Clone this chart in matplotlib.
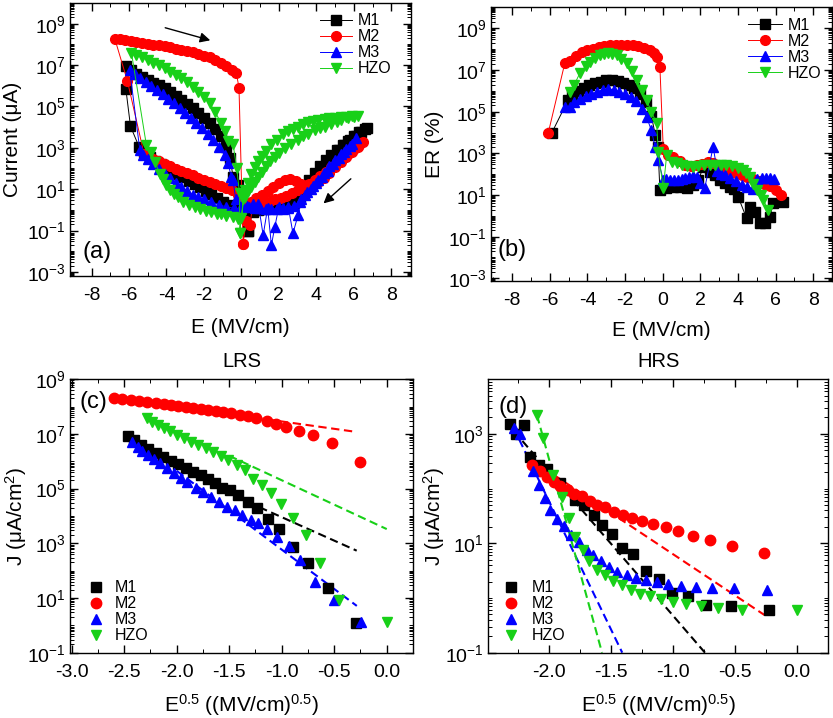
import numpy as np
import matplotlib
matplotlib.use('Agg')
import matplotlib.pyplot as plt
from matplotlib.ticker import FixedLocator, LogLocator, MultipleLocator, FuncFormatter, NullFormatter, FormatStrFormatter

plt.rcParams['font.family'] = ['Liberation Sans', 'DejaVu Sans']
plt.rcParams['mathtext.fontset'] = 'custom'
plt.rcParams['mathtext.rm'] = 'Liberation Sans'
plt.rcParams['mathtext.it'] = 'Liberation Sans:italic'
plt.rcParams['mathtext.bf'] = 'Liberation Sans:bold'
plt.rcParams['axes.unicode_minus'] = False

names = ['M1', 'M2', 'M3', 'HZO']
colors = ['#000000', '#ff0000', '#0000ff', '#18d018']
markers = ['s', 'o', '^', 'v']

# ---- (a) I-E loops, E in MV/cm, log10 of current in uA
a_m1_E = [0.35, 0.6, 0.9, 1.2, 1.5, 1.8, 2.1, 2.4, 2.7, 3.0, 3.3, 3.6, 3.9, 4.2, 4.5, 4.8, 5.1, 5.4, 5.7, 6.0, 6.3, 6.6,
          6.7, 6.4, 6.1, 5.8, 5.5, 5.2, 4.9, 4.6, 4.3, 4.0, 3.7, 3.4, 3.1, 2.8, 2.5, 2.2, 1.9, 1.6, 1.3, 1.0, 0.7, 0.4, 0.1,
          -0.1, -0.4, -0.7, -1.0, -1.3, -1.6, -1.9, -2.2, -2.5, -2.8, -3.1, -3.4, -3.7, -4.0, -4.3, -4.6, -4.9, -5.2, -5.46, -5.92, -6.17,
          -6.17, -5.9, -5.6, -5.3, -5.0, -4.7, -4.4, -4.1, -3.8, -3.5, -3.2, -2.9, -2.6, -2.3, -2.0, -1.7, -1.4, -1.1, -0.8, -0.6, -0.45, -0.2]
a_m1_logI = [-1.0, -0.1, 0.0, 0.05, 0.1, 0.15, 0.2, 0.3, 0.55, 0.8, 1.1, 1.45, 1.8, 2.1, 2.4, 2.65, 2.9, 3.15, 3.35, 3.55, 3.75, 3.93,
             3.95, 3.78, 3.58, 3.38, 3.12, 2.88, 2.62, 2.32, 2.02, 1.68, 1.32, 0.95, 0.6, 0.35, 0.2, 0.15, 0.12, 0.1, 0.08, 0.05, 0.02, 0.0, 0.1,
             -0.02, 0.1, 0.25, 0.4, 0.58, 0.75, 0.92, 1.08, 1.24, 1.41, 1.58, 1.73, 1.89, 2.05, 2.22, 2.38, 2.55, 2.8, 3.04, 4.04, 5.86,
             6.94, 6.75, 6.58, 6.42, 6.28, 6.15, 6.02, 5.88, 5.70, 5.52, 5.32, 5.12, 4.9, 4.68, 4.45, 4.2, 3.9, 3.55, 3.04, 2.5, 1.6, 1.2]

a_m2_E = [0.09, 0.25, 0.45, 0.6, 0.9, 1.2, 1.5, 1.8, 2.1, 2.4, 2.7, 3.0, 3.3, 3.6, 3.9, 4.2, 4.5, 4.8, 5.1, 5.4, 5.7, 6.0, 6.3, 6.5,
          6.2, 5.9, 5.6, 5.3, 5.0, 4.7, 4.4, 4.1, 3.8, 3.5, 3.2, 2.9, 2.6, 2.3, 2.0, 1.7, 1.4, 1.1, 0.8, 0.5, 0.2,
          -0.18, -0.5, -0.8, -1.1, -1.4, -1.7, -2.0, -2.3, -2.6, -2.9, -3.2, -3.5, -3.8, -4.1, -4.4, -4.7, -5.0, -5.2, -6.08,
          -6.76, -6.5, -6.2, -5.9, -5.6, -5.3, -5.0, -4.7, -4.4, -4.1, -3.8, -3.5, -3.2, -2.9, -2.6, -2.3, -2.0, -1.7, -1.4, -1.1, -0.8, -0.5, -0.27, -0.13]
a_m2_logI = [-1.63, -0.55, -0.75, 0.2, 0.3, 0.4, 0.45, 0.5, 0.55, 0.65, 0.8, 0.95, 1.1, 1.25, 1.45, 1.65, 1.85, 2.05, 2.3, 2.5, 2.7, 2.95, 3.15, 3.3,
             3.05, 2.8, 2.55, 2.3, 2.05, 1.8, 1.55, 1.35, 1.25, 1.2, 1.25, 1.4, 1.5, 1.45, 1.3, 1.1, 0.9, 0.7, 0.55, 0.4, 0.3,
             0.71, 0.95, 1.05, 1.15, 1.25, 1.35, 1.46, 1.56, 1.66, 1.76, 1.87, 1.98, 2.1, 2.22, 2.34, 2.46, 2.58, 2.72, 6.21,
             8.28, 8.25, 8.22, 8.18, 8.13, 8.08, 8.04, 7.99, 7.95, 7.9, 7.85, 7.8, 7.74, 7.69, 7.62, 7.55, 7.46, 7.37, 7.26, 7.12, 6.95, 6.75, 6.6, 5.91]

a_m3_E = [0.0, 0.3, 0.6, 0.9, 1.16, 1.4, 1.6, 1.78, 2.0, 2.2, 2.5, 2.75, 3.02, 3.2, 3.5, 3.8, 4.1, 4.4, 4.7, 5.0, 5.3, 5.6, 5.9, 6.1,
          5.8, 5.5, 5.2, 4.9, 4.6, 4.3, 4.0, 3.7, 3.4, 3.1, 2.8, 2.5, 2.2, 1.9, 1.6, 1.3, 1.0, 0.7, 0.4, 0.1,
          -0.1, -0.4, -0.8, -1.2, -1.6, -2.0, -2.3, -2.6, -2.9, -3.2, -3.5, -3.8, -4.1, -4.4, -4.7, -5.0, -5.24, -5.42,
          -5.96, -5.7, -5.4, -5.1, -4.8, -4.5, -4.2, -3.9, -3.6, -3.3, -3.0, -2.7, -2.4, -2.1, -1.8, -1.5, -1.2, -0.9, -0.7, -0.55, -0.45, -0.3]
a_m3_logI = [0.15, 0.2, 0.28, 0.3, -1.23, 0.1, -1.71, -0.83, 0.15, 0.1, 0.15, -1.14, -0.26, 0.5, 0.85, 1.15, 1.45, 1.8, 2.1, 2.4, 2.7, 2.95, 3.2, 3.48,
             3.1, 2.8, 2.5, 2.2, 1.9, 1.6, 1.3, 1.0, 0.7, 0.4, 0.2, 0.1, 0.05, 0.05, 0.05, 0.05, 0.08, 0.1, 0.12, 0.15,
             0.05, 0.08, 0.14, 0.25, 0.38, 0.5, 0.6, 0.72, 0.9, 1.12, 1.32, 1.52, 1.72, 1.96, 2.2, 2.45, 2.64, 2.88,
             6.75, 6.57, 6.38, 6.18, 5.99, 5.79, 5.58, 5.37, 5.15, 4.93, 4.70, 4.45, 4.2, 3.95, 3.65, 3.36, 3.05, 2.65, 2.24, 1.6, 1.43, 0.5]

a_hzo_E = [-0.09, 0.1, 0.18, 0.35, 0.53, 0.7, 0.89, 1.1, 1.3, 1.55, 1.78, 2.0, 2.3, 2.67, 3.0, 3.3, 3.56, 3.9, 4.2, 4.44, 4.8, 5.1, 5.33, 5.7, 6.0, 6.22,
           5.9, 5.6, 5.33, 5.0, 4.7, 4.44, 4.1, 3.8, 3.56, 3.3, 3.0, 2.75, 2.49, 2.2, 1.9, 1.6, 1.3, 1.1, 0.89, 0.7, 0.53, 0.35, 0.18,
           0.0, -0.18, -0.44, -0.8, -1.1, -1.33, -1.6, -1.9, -2.22, -2.5, -2.8, -3.11, -3.4, -3.6, -3.82, -4.0, -4.2, -4.36, -4.6, -4.8, -5.07,
           -5.87, -5.6, -5.3, -5.0, -4.7, -4.4, -4.1, -3.8, -3.5, -3.2, -2.9, -2.6, -2.3, -2.0, -1.7, -1.4, -1.1, -0.9, -0.7, -0.45, -0.25, -0.1]
a_hzo_logI = [-1.14, 0.5, 0.62, 0.9, 1.1, 1.35, 1.59, 1.85, 2.1, 2.35, 2.56, 2.75, 3.0, 3.2, 3.4, 3.55, 3.69, 3.85, 3.95, 4.01, 4.15, 4.25, 4.33, 4.42, 4.5, 4.53,
              4.53, 4.5, 4.47, 4.44, 4.42, 4.39, 4.33, 4.28, 4.23, 4.15, 4.0, 3.9, 3.8, 3.65, 3.4, 3.19, 2.85, 2.6, 2.38, 2.05, 1.74, 1.3, 0.94,
              -0.38, -0.42, -0.34, -0.28, -0.22, -0.18, -0.12, -0.05, 0.06, 0.15, 0.25, 0.39, 0.6, 0.75, 0.95, 1.2, 1.5, 1.75, 2.3, 2.8, 3.12,
              7.6, 7.5, 7.38, 7.25, 7.12, 6.98, 6.84, 6.68, 6.52, 6.35, 6.16, 5.95, 5.72, 5.45, 5.15, 4.75, 4.2, 3.8, 3.35, 3.2, 2.0, 0.79]

# ---- (b) ER (%) vs E, log10 values
b_m1_E = [-5.91, -5.03, -4.8, -4.5, -4.2, -3.9, -3.6, -3.3, -3.0, -2.7, -2.4, -2.1, -1.8, -1.5, -1.2, -0.9, -0.6, -0.4, -0.25, -0.15,
          0.2, 0.56, 0.9, 1.27, 1.6, 1.9, 2.15, 2.5, 2.8, 3.04, 3.3, 3.57, 3.8, 4.01, 4.46, 4.64, 4.9, 5.17, 5.43, 5.7, 5.88, 6.41]
b_m1_log = [3.96, 5.56, 5.8, 6.0, 6.15, 6.28, 6.38, 6.45, 6.5, 6.52, 6.48, 6.4, 6.3, 6.12, 5.85, 5.45, 4.8, 3.9, 3.3, 1.24,
            1.35, 1.40, 1.38, 1.32, 1.5, 1.7, 2.36, 2.1, 1.95, 1.72, 1.6, 1.4, 1.3, 0.92, -0.12, 0.44, 0.2, -0.36, -0.36, -0.04, 0.6, 0.68]
b_m2_E = [-6.09, -5.2, -4.94, -4.6, -4.3, -4.0, -3.7, -3.4, -3.1, -2.8, -2.5, -2.2, -1.9, -1.6, -1.3, -1.0, -0.7, -0.45, -0.3, -0.15,
          0.03, 0.3, 0.56, 0.9, 1.2, 1.5, 1.8, 2.1, 2.4, 2.7, 3.0, 3.3, 3.6, 3.9, 4.2, 4.5, 4.8, 5.1, 5.4, 5.7, 6.0, 6.3]
b_m2_log = [3.96, 7.35, 7.45, 7.68, 7.85, 7.95, 8.03, 8.09, 8.14, 8.18, 8.21, 8.22, 8.22, 8.2, 8.16, 8.08, 7.96, 7.8, 7.65, 7.16,
            3.2, 2.9, 2.84, 2.65, 2.45, 2.4, 2.45, 2.5, 2.6, 2.55, 2.4, 2.3, 2.2, 2.08, 1.95, 1.85, 1.75, 1.65, 1.55, 1.45, 1.25, 1.0]
b_m3_E = [-5.2, -4.94, -4.7, -4.4, -4.1, -3.8, -3.5, -3.2, -2.9, -2.6, -2.3, -2.0, -1.7, -1.4, -1.1, -0.86, -0.6, -0.41, -0.24,
          0.03, 0.2, 0.4, 0.6, 0.8, 1.0, 1.2, 1.4, 1.6, 1.8, 2.0, 2.24, 2.68, 2.9, 3.1, 3.3, 3.6, 3.9, 4.2, 4.5, 4.8, 5.0, 5.3, 5.5, 5.7, 5.9]
b_m3_log = [5.21, 5.25, 5.45, 5.62, 5.75, 5.85, 5.95, 6.05, 6.08, 6.05, 5.95, 5.85, 5.7, 5.5, 5.15, 4.76, 4.1, 3.32, 2.68,
            1.72, 1.75, 1.7, 1.7, 1.72, 1.75, 1.8, 1.85, 1.9, 1.85, 1.6, 1.35, 3.32, 2.15, 2.0, 1.95, 1.8, 1.65, 1.5, 1.4, 1.3, 1.75, 1.8, 1.82, 1.8, 1.75]
b_hzo_E = [-4.94, -4.7, -4.41, -4.1, -3.87, -3.6, -3.34, -3.1, -2.9, -2.7, -2.45, -2.2, -1.92, -1.65, -1.39, -1.1, -0.86, -0.6, -0.32, -0.24,
           0.03, 0.21, 0.5, 0.74, 1.0, 1.3, 1.62, 1.9, 2.2, 2.5, 2.8, 3.1, 3.39, 3.7, 4.0, 4.28, 4.45, 4.64, 4.8, 4.99, 5.2, 5.35, 5.61]
b_hzo_log = [5.96, 6.3, 6.84, 7.2, 7.40, 7.6, 7.72, 7.78, 7.80, 7.78, 7.72, 7.55, 7.32, 6.95, 6.52, 6.05, 5.56, 5.0, 4.44, 3.08,
             1.32, 2.92, 2.6, 2.52, 2.45, 2.4, 2.36, 2.4, 2.42, 2.44, 2.45, 2.45, 2.44, 2.38, 2.3, 2.2, 2.05, 1.88, 1.55, 1.24, 1.0, 0.76, 0.28]

# ---- (c) LRS, x = E^0.5, log10 J (uA/cm2)
c_m1_x = [-2.468, -2.405, -2.342, -2.272, -2.199, -2.127, -2.057, -1.987, -1.915, -1.842, -1.772, -1.703, -1.639, -1.566,
          -1.494, -1.415, -1.323, -1.234, -1.133, -1.022, -0.892, -0.753, -0.563, -0.291]
c_m1_log = [6.93, 6.76, 6.60, 6.45, 6.29, 6.17, 6.01, 5.90, 5.74, 5.62, 5.50, 5.35, 5.20, 5.04,
            4.95, 4.77, 4.52, 4.28, 3.89, 3.51, 2.88, 2.29, 1.35, 0.07]
c_m2_x = [-2.595, -2.516, -2.437, -2.358, -2.278, -2.199, -2.120, -2.057, -1.987, -1.915, -1.842, -1.772, -1.703,
          -1.630, -1.557, -1.481, -1.399, -1.323, -1.241, -1.139, -1.054, -0.956, -0.835, -0.703, -0.519, -0.259]
c_m2_log = [8.30, 8.27, 8.23, 8.20, 8.16, 8.12, 8.09, 8.05, 8.01, 7.98, 7.94, 7.90, 7.87,
            7.83, 7.79, 7.76, 7.71, 7.66, 7.60, 7.48, 7.37, 7.27, 7.11, 6.96, 6.66, 5.96]
c_m3_x = [-2.421, -2.373, -2.326, -2.272, -2.215, -2.158, -2.089, -2.025, -1.962, -1.899, -1.820, -1.747, -1.677,
          -1.598, -1.519, -1.449, -1.377, -1.297, -1.228, -1.139, -1.044, -0.934, -0.823, -0.680, -0.506, -0.247]
c_m3_log = [6.72, 6.54, 6.38, 6.23, 6.09, 5.93, 5.74, 5.56, 5.38, 5.23, 5.01, 4.87, 4.71,
            4.52, 4.34, 4.22, 4.04, 3.85, 3.76, 3.52, 3.22, 2.91, 2.39, 1.60, 0.93, 0.13]
c_hzo_x = [-2.278, -2.231, -2.177, -2.120, -2.063, -2.000, -1.930, -1.867, -1.797, -1.725, -1.652, -1.582,
           -1.509, -1.424, -1.354, -1.272, -1.187, -1.101, -1.006, -0.896, -0.772, -0.633, -0.459, 0.0]
c_hzo_log = [7.57, 7.45, 7.33, 7.21, 7.09, 6.96, 6.84, 6.72, 6.60, 6.48, 6.35, 6.21,
             6.05, 5.87, 5.68, 5.35, 5.13, 4.83, 4.43, 3.91, 3.30, 2.27, 0.93, 0.11]
c_fit_x = [[-1.55, -0.286], [-2.6, -0.32], [-2.0, -0.285], [-1.5, 0.0]]
c_fit_log = [[4.90, 2.73], [8.32, 7.09], [5.65, 0.71], [6.20, 3.52]]

# ---- (d) HRS
d_m1_x = [-2.310, -2.261, -2.202, -2.148, -2.081, -2.013, -1.906, -1.784, -1.717, -1.636, -1.569, -1.488, -1.407,
          -1.318, -1.218, -1.111, -1.008, -0.873, -0.733, -0.531, -0.221]
d_m1_log = [3.18, 2.99, 3.16, 2.57, 2.44, 2.35, 2.10, 1.80, 1.70, 1.52, 1.33, 1.17, 0.92,
            0.81, 0.50, 0.34, 0.09, 0.03, -0.13, -0.14, -0.22]
d_m2_x = [-2.135, -2.067, -2.013, -1.960, -1.906, -1.846, -1.792, -1.730, -1.668, -1.609, -1.542, -1.474, -1.399,
          -1.326, -1.245, -1.156, -1.057, -0.954, -0.833, -0.698, -0.518, -0.261]
d_m2_log = [2.44, 2.32, 2.22, 2.12, 2.04, 1.98, 1.90, 1.86, 1.78, 1.70, 1.66, 1.58, 1.51,
            1.46, 1.41, 1.36, 1.30, 1.23, 1.14, 1.06, 0.95, 0.82]
d_m3_x = [-2.283, -2.229, -2.127, -2.081, -2.027, -1.987, -1.933, -1.879, -1.819, -1.757, -1.695, -1.642, -1.582,
          -1.515, -1.447, -1.372, -1.299, -1.218, -1.129, -1.035, -0.935, -0.814, -0.687, -0.504, -0.240]
d_m3_log = [3.11, 2.99, 2.32, 2.07, 1.83, 1.61, 1.45, 1.31, 1.16, 1.03, 0.88, 0.79, 0.67,
            0.57, 0.48, 0.42, 0.37, 0.33, 0.29, 0.25, 0.22, 0.20, 0.19, 0.18, 0.15]
d_hzo_x = [-2.094, -2.046, -1.965, -1.892, -1.838, -1.784, -1.722, -1.677, -1.609, -1.550, -1.482, -1.412, -1.340,
           -1.264, -1.186, -1.097, -0.997, -0.889, -0.774, -0.631, -0.445, 0.003]
d_hzo_log = [3.34, 2.93, 2.25, 1.84, 1.46, 1.12, 0.88, 0.67, 0.51, 0.42, 0.31, 0.23, 0.15,
             0.08, 0.04, -0.02, -0.07, -0.11, -0.14, -0.19, -0.22, -0.22]
d_fit_x = [[-2.28, -0.74], [-2.13, -0.261], [-2.283, -1.407], [-2.094, -1.57]]
d_fit_log = [[3.05, -1.0], [2.51, -0.31], [3.11, -1.0], [3.34, -1.0]]


def decade_fmt(v, p):
    return '$10^{%d}$' % int(round(np.log10(v)))


def style(ax, xlim, ylim, xmaj, xmin, ymaj, xfmt):
    ax.set_yscale('log')
    ax.set_xlim(xlim)
    ax.set_ylim(ylim)
    ax.xaxis.set_major_locator(MultipleLocator(xmaj))
    ax.xaxis.set_minor_locator(MultipleLocator(xmin))
    ax.xaxis.set_major_formatter(FormatStrFormatter(xfmt))
    ax.yaxis.set_major_locator(FixedLocator(ymaj))
    ax.yaxis.set_major_formatter(FuncFormatter(decade_fmt))
    ax.yaxis.set_minor_locator(LogLocator(base=10, subs=np.arange(1, 10), numticks=40))
    ax.yaxis.set_minor_formatter(NullFormatter())
    ax.tick_params(which='both', direction='in', top=True, right=True)
    ax.tick_params(which='major', length=6, width=1.0, labelsize=14)
    ax.tick_params(axis='x', which='major', pad=8)
    ax.tick_params(axis='y', which='major', pad=3)
    ax.tick_params(which='minor', length=3, width=0.7)
    for s in ax.spines.values():
        s.set_linewidth(1.0)


def place_labels(ax, xl, yl, xy, yx):
    ax.set_xlabel(xl, fontsize=15)
    ax.set_ylabel(yl, fontsize=15)
    ax.xaxis.set_label_coords(0.5, xy)
    ax.xaxis.label.set_va('center')
    ax.yaxis.set_label_coords(yx, 0.5)
    ax.yaxis.label.set_va('center')


fig = plt.figure(figsize=(8.33, 7.18), dpi=100)
axa = fig.add_axes([0.0840, 0.6156, 0.4094, 0.3802])
axb = fig.add_axes([0.5894, 0.6086, 0.4094, 0.3820])
axc = fig.add_axes([0.0840, 0.0910, 0.4118, 0.3808])
axd = fig.add_axes([0.5862, 0.0910, 0.4082, 0.3808])

# (a)
a_E = [a_m1_E, a_m2_E, a_m3_E, a_hzo_E]
a_L = [a_m1_logI, a_m2_logI, a_m3_logI, a_hzo_logI]
for e, l, c, m, n in zip(a_E, a_L, colors, markers, names):
    e = np.r_[e, e[:1]]
    l = np.r_[l, l[:1]]
    axa.plot(e, 10.0 ** l, color=c, marker=m, ms=7, lw=0.7, label=n)
style(axa, (-9.15, 9.05), (10 ** -3.2, 1e10), 2, 1, [10.0 ** k for k in range(-3, 10, 2)], '%d')
place_labels(axa, 'E (MV/cm)', 'Current (\u03bcA)', -0.187, -0.169)
axa.annotate('', xy=(-1.52, 10 ** 8.16), xytext=(-4.21, 10 ** 8.84),
             arrowprops=dict(arrowstyle='-|>', color='black', lw=1.0, mutation_scale=15))
axa.annotate('', xy=(4.27, 10 ** 0.22), xytext=(5.95, 10 ** 1.59),
             arrowprops=dict(arrowstyle='-|>', color='black', lw=1.0, mutation_scale=15))
axa.text(0.036, 0.089, '(a)', transform=axa.transAxes, fontsize=17, va='center', ha='left')
axa.legend(loc='upper right', bbox_to_anchor=(0.962, 0.985), borderaxespad=0, frameon=False,
           fontsize=11.5, handlelength=2.0, handletextpad=0.4, labelspacing=0.06, borderpad=0.4)

# (b)
b_E = [b_m1_E, b_m2_E, b_m3_E, b_hzo_E]
b_L = [b_m1_log, b_m2_log, b_m3_log, b_hzo_log]
for e, l, c, m, n in zip(b_E, b_L, colors, markers, names):
    axb.plot(e, 10.0 ** np.array(l), color=c, marker=m, ms=7, lw=0.7, label=n)
style(axb, (-9.13, 9.0), (10 ** -3.13, 10 ** 10.04), 2, 1, [10.0 ** k for k in range(-3, 10, 2)], '%d')
place_labels(axb, 'E (MV/cm)', 'ER (%)', -0.179, -0.167)
axb.text(0.018, 0.113, '(b)', transform=axb.transAxes, fontsize=17, va='center', ha='left')
axb.legend(loc='upper right', bbox_to_anchor=(0.988, 0.983), borderaxespad=0, frameon=False,
           fontsize=11.5, handlelength=2.1, handletextpad=0.4, labelspacing=0.06, borderpad=0.4)

# (c)
c_X = [c_m1_x, c_m2_x, c_m3_x, c_hzo_x]
c_L = [c_m1_log, c_m2_log, c_m3_log, c_hzo_log]
for fx, fl, c in zip(c_fit_x, c_fit_log, colors):
    axc.plot(fx, 10.0 ** np.array(fl), color=c, ls=(0, (4, 2.2)), lw=1.5, zorder=1)
for x, l, c, m, n in zip(c_X, c_L, colors, markers, names):
    axc.plot(x, 10.0 ** np.array(l), ls='none', color=c, marker=m, ms=7.5, label=n, zorder=2)
style(axc, (-3.016, 0.25), (0.1, 1e9), 0.5, 0.25, [10.0 ** k for k in range(-1, 10, 2)], '%.1f')
place_labels(axc, 'E$^{0.5}$ ((MV/cm)$^{0.5}$)', 'J (\u03bcA/cm$^{2}$)', -0.191, -0.157)
axc.set_title('LRS', fontsize=14.5, pad=9)
axc.text(0.027, 0.917, '(c)', transform=axc.transAxes, fontsize=17, va='center', ha='left')
axc.legend(loc='lower left', bbox_to_anchor=(0.036, 0.011), borderaxespad=0, frameon=False,
           fontsize=11.5, handlelength=0.9, handletextpad=0.7, labelspacing=0.06, borderpad=0.4)

# (d)
d_X = [d_m1_x, d_m2_x, d_m3_x, d_hzo_x]
d_L = [d_m1_log, d_m2_log, d_m3_log, d_hzo_log]
for fx, fl, c in zip(d_fit_x, d_fit_log, colors):
    axd.plot(fx, 10.0 ** np.array(fl), color=c, ls=(0, (4, 2.2)), lw=1.5, zorder=1)
for x, l, c, m, n in zip(d_X, d_L, colors, markers, names):
    axd.plot(x, 10.0 ** np.array(l), ls='none', color=c, marker=m, ms=7.5, label=n, zorder=2)
style(axd, (-2.487, 0.255), (0.1, 1e4), 0.5, 0.25, [0.1, 10.0, 1000.0], '%.1f')
place_labels(axd, 'E$^{0.5}$ ((MV/cm)$^{0.5}$)', 'J (\u03bcA/cm$^{2}$)', -0.191, -0.161)
axd.set_title('HRS', fontsize=14.5, pad=9)
axd.text(0.030, 0.897, '(d)', transform=axd.transAxes, fontsize=17, va='center', ha='left')
axd.legend(loc='lower left', bbox_to_anchor=(0.027, 0.011), borderaxespad=0, frameon=False,
           fontsize=11.5, handlelength=0.9, handletextpad=0.85, labelspacing=0.06, borderpad=0.4)

fig.savefig('out.png', dpi=100)
